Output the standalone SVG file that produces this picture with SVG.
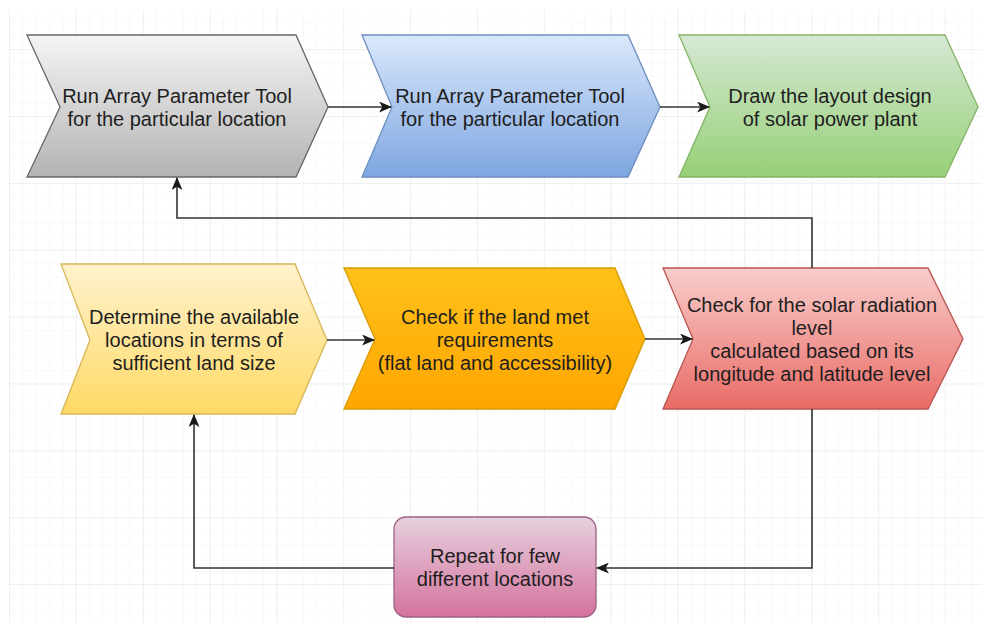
<svg xmlns="http://www.w3.org/2000/svg" width="982" height="623" viewBox="0 0 982 623">
  <defs>
    <pattern id="minor" x="9" y="49.2" width="13.37" height="13.37" patternUnits="userSpaceOnUse">
      <path d="M0 0V13.37M0 0H13.37" fill="none" stroke="#f3f3f3" stroke-width="1"/>
    </pattern>
    <pattern id="major" x="9" y="49.2" width="66.85" height="66.85" patternUnits="userSpaceOnUse">
      <path d="M0 0V66.85M0 0H66.85" fill="none" stroke="#e6e6e6" stroke-width="1"/>
    </pattern>
    <linearGradient id="gGrey" x1="0" y1="0" x2="0" y2="1">
      <stop offset="0" stop-color="#f5f5f5"/><stop offset="1" stop-color="#b3b3b3"/>
    </linearGradient>
    <linearGradient id="gBlue" x1="0" y1="0" x2="0" y2="1">
      <stop offset="0" stop-color="#dae8fc"/><stop offset="1" stop-color="#7ea6e0"/>
    </linearGradient>
    <linearGradient id="gGreen" x1="0" y1="0" x2="0" y2="1">
      <stop offset="0" stop-color="#d5e8d4"/><stop offset="1" stop-color="#97d077"/>
    </linearGradient>
    <linearGradient id="gYellow" x1="0" y1="0" x2="0" y2="1">
      <stop offset="0" stop-color="#fff2cc"/><stop offset="1" stop-color="#ffd966"/>
    </linearGradient>
    <linearGradient id="gOrange" x1="0" y1="0" x2="0" y2="1">
      <stop offset="0" stop-color="#ffc21a"/><stop offset="1" stop-color="#ffa500"/>
    </linearGradient>
    <linearGradient id="gRed" x1="0" y1="0" x2="0" y2="1">
      <stop offset="0" stop-color="#f8cecc"/><stop offset="1" stop-color="#ea6b66"/>
    </linearGradient>
    <linearGradient id="gPink" x1="0" y1="0" x2="0" y2="1">
      <stop offset="0" stop-color="#e6d0de"/><stop offset="1" stop-color="#d5739d"/>
    </linearGradient>
    <marker id="arrow" viewBox="0 0 12 10" refX="11" refY="5" markerWidth="13" markerHeight="11" markerUnits="userSpaceOnUse" orient="auto">
      <path d="M0 0L12 5L0 10L3 5Z" fill="#1a1a1a"/>
    </marker>
  </defs>
  <style>
    .lbl { font-family: "Liberation Sans", Arial, sans-serif; font-size: 20px; fill: #1e1e1e; text-anchor: middle; }
    .edge { fill: none; stroke: #333333; stroke-width: 1.6; marker-end: url(#arrow); }
    .shape { stroke-width: 1.3; }
  </style>

  <!-- canvas grid -->
  <rect width="982" height="623" fill="#ffffff"/>
  <rect x="9" y="10" width="973" height="613" fill="url(#minor)"/>
  <rect x="9" y="10" width="973" height="613" fill="url(#major)"/>

  <!-- top row -->
  <g id="node-run-array-1">
    <path class="shape" d="M27 35H296L328 107L296 177H27L60 107Z" fill="url(#gGrey)" stroke="#666666"/>
    <text class="lbl" x="177" y="103">Run Array Parameter Tool</text>
    <text class="lbl" x="177" y="126">for the particular location</text>
  </g>
  <g id="node-run-array-2">
    <path class="shape" d="M362 35H628L660 107L628 177H362L392 107Z" fill="url(#gBlue)" stroke="#6c8ebf"/>
    <text class="lbl" x="510" y="103">Run Array Parameter Tool</text>
    <text class="lbl" x="510" y="126">for the particular location</text>
  </g>
  <g id="node-layout">
    <path class="shape" d="M679 35H945L978 107L945 177H679L710 107Z" fill="url(#gGreen)" stroke="#82b366"/>
    <text class="lbl" x="830" y="103">Draw the layout design</text>
    <text class="lbl" x="830" y="126">of solar power plant</text>
  </g>

  <!-- middle row -->
  <g id="node-locations">
    <path class="shape" d="M61 264H295L327 340L295 414H61L90 340Z" fill="url(#gYellow)" stroke="#d6b656"/>
    <text class="lbl" x="194" y="324">Determine the available</text>
    <text class="lbl" x="194" y="347">locations in terms of</text>
    <text class="lbl" x="194" y="370">sufficient land size</text>
  </g>
  <g id="node-land-check">
    <path class="shape" d="M344 268H615L645 339L615 409H344L375 339Z" fill="url(#gOrange)" stroke="#d79b00"/>
    <text class="lbl" x="495" y="324">Check if the land met</text>
    <text class="lbl" x="495" y="347">requirements</text>
    <text class="lbl" x="495" y="370">(flat land and accessibility)</text>
  </g>
  <g id="node-radiation">
    <path class="shape" d="M663 268H928L963 339L928 409H663L693 339Z" fill="url(#gRed)" stroke="#b85450"/>
    <text class="lbl" x="812" y="312">Check for the solar radiation</text>
    <text class="lbl" x="812" y="335">level</text>
    <text class="lbl" x="812" y="358">calculated based on its</text>
    <text class="lbl" x="812" y="381">longitude and latitude level</text>
  </g>

  <!-- bottom -->
  <g id="node-repeat">
    <rect class="shape" x="394" y="517" width="202" height="100" rx="12" ry="12" fill="url(#gPink)" stroke="#996185"/>
    <text class="lbl" x="495" y="563">Repeat for few</text>
    <text class="lbl" x="495" y="586">different locations</text>
  </g>

  <!-- connectors -->
  <g id="connectors">
    <path class="edge" d="M328 107H391"/>
    <path class="edge" d="M660 107H709"/>
    <path class="edge" d="M327 340H374"/>
    <path class="edge" d="M645 339H692"/>
    <path class="edge" d="M812 268V218H177V178"/>
    <path class="edge" d="M812 409V568H597"/>
    <path class="edge" d="M394 568H194V415"/>
  </g>
</svg>
